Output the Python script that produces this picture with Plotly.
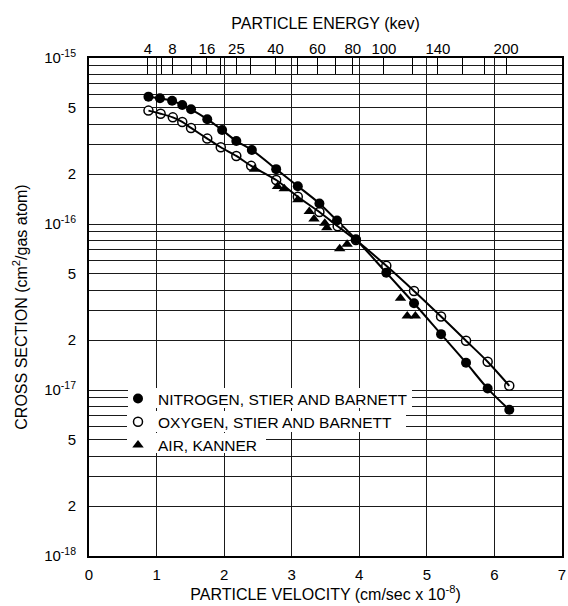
import numpy as np
import plotly.graph_objects as go

# ---- data (velocity in 1e8 cm/s, cross section in cm^2/gas atom)
nitrogen_v = [0.88, 1.05, 1.23, 1.38, 1.51, 1.75, 1.97, 2.18, 2.41, 2.77,
              3.09, 3.41, 3.67, 3.95, 4.40, 4.81, 5.21, 5.58, 5.90, 6.22]
nitrogen_sigma = [5.85e-16, 5.72e-16, 5.53e-16, 5.21e-16, 4.91e-16, 4.28e-16, 3.68e-16,
                  3.16e-16, 2.79e-16, 2.14e-16, 1.69e-16, 1.33e-16, 1.05e-16, 8.1e-17,
                  5.09e-17, 3.33e-17, 2.17e-17, 1.46e-17, 1.02e-17, 7.6e-18]

oxygen_v = [0.88, 1.06, 1.24, 1.38, 1.51, 1.75, 1.95, 2.18, 2.40, 2.77,
            3.09, 3.41, 3.68, 3.95, 4.40, 4.81, 5.21, 5.58, 5.90, 6.22]
oxygen_sigma = [4.82e-16, 4.62e-16, 4.39e-16, 4.12e-16, 3.79e-16, 3.27e-16, 2.90e-16,
                2.57e-16, 2.24e-16, 1.84e-16, 1.46e-16, 1.18e-16, 9.7e-17, 8.0e-17,
                5.6e-17, 3.95e-17, 2.77e-17, 1.98e-17, 1.48e-17, 1.06e-17]

air_v = [2.45, 2.79, 2.89, 3.09, 3.26, 3.33, 3.49, 3.52, 3.71, 3.82, 4.61, 4.71, 4.83]
air_sigma = [2.14e-16, 1.68e-16, 1.63e-16, 1.40e-16, 1.19e-16, 1.07e-16, 1.01e-16,
             9.5e-17, 7.1e-17, 7.55e-17, 3.57e-17, 2.79e-17, 2.79e-17]

# ---- axis tick definitions
x_ticks = [0, 1, 2, 3, 4, 5, 6, 7]
energy_labels = [4, 8, 16, 25, 40, 60, 80, 100, 140, 200]
energy_minor_kev = [6, 12, 20, 30, 50, 70, 120, 160, 180]
KEV_PER_V2 = 5.25  # proton kinetic energy (keV) per (1e8 cm/s)^2

y_major_vals = [1e-18, 2e-18, 5e-18, 1e-17, 2e-17, 5e-17, 1e-16, 2e-16, 5e-16, 1e-15]
y_major_text = ["10<sup>-18</sup>", "2", "5", "10<sup>-17</sup>", "2", "5",
                "10<sup>-16</sup>", "2", "5", "10<sup>-15</sup>"]
y_minor_vals = [k * 10.0 ** d for d in (-18, -17, -16) for k in (3, 4, 6, 7, 8, 9)]

top_major = list(np.sqrt(np.array(energy_labels) / KEV_PER_V2))
top_minor = list(np.sqrt(np.array(energy_minor_kev) / KEV_PER_V2))

FONT = "Liberation Sans"

fig = go.Figure()

# curves (oxygen curve drawn against the top energy axis, which shares the velocity scale)
fig.add_trace(go.Scatter(x=oxygen_v, y=oxygen_sigma, mode="lines", xaxis="x2",
                         line=dict(color="black", width=2, shape="spline", smoothing=0.8),
                         showlegend=False, hoverinfo="skip"))
fig.add_trace(go.Scatter(x=nitrogen_v, y=nitrogen_sigma, mode="lines",
                         line=dict(color="black", width=2, shape="spline", smoothing=0.8),
                         showlegend=False, hoverinfo="skip"))
# points
fig.add_trace(go.Scatter(x=oxygen_v, y=oxygen_sigma, mode="markers",
                         name="OXYGEN, STIER AND BARNETT", legendrank=2,
                         marker=dict(symbol="circle", size=9, color="white",
                                     line=dict(color="black", width=1.5))))
fig.add_trace(go.Scatter(x=air_v, y=air_sigma, mode="markers",
                         name="AIR, KANNER", legendrank=3,
                         marker=dict(symbol="triangle-up", size=10, color="black")))
fig.add_trace(go.Scatter(x=nitrogen_v, y=nitrogen_sigma, mode="markers",
                         name="NITROGEN, STIER AND BARNETT", legendrank=1,
                         marker=dict(symbol="circle", size=10, color="black")))

# plot area in pixels: left 89, right 562, top 58, bottom 556
W, H = 568, 606
L, R, T, B = 89, 6, 58, 50
pw, ph = W - L - R, H - T - B

def px_x(p):
    return (p - L) / pw

def px_y(p):
    return (H - B - p) / ph

# white patches behind legend rows (hide grid lines under the text)
rows = [(128, 412, 388, 408), (127, 406, 411, 432), (127, 266, 433, 453)]
shapes = []
for x0, x1, y0, y1 in rows:
    shapes.append(dict(type="rect", xref="paper", yref="paper", layer="above",
                       x0=px_x(x0), x1=px_x(x1), y0=px_y(y1), y1=px_y(y0),
                       fillcolor="white", line=dict(width=0)))

grid_col = "#1a1a1a"

fig.update_layout(
    width=W, height=H,
    margin=dict(l=L, r=R, t=T, b=B, autoexpand=False),
    plot_bgcolor="white", paper_bgcolor="white",
    font=dict(family=FONT, size=15, color="black"),
    shapes=shapes,
    showlegend=True,
    legend=dict(x=px_x(118), y=px_y(382), xanchor="left", yanchor="top",
                bgcolor="rgba(0,0,0,0)", borderwidth=0,
                font=dict(family=FONT, size=15.5, color="black"),
                itemwidth=30, tracegroupgap=0),
    xaxis=dict(range=[0, 7], tickvals=x_ticks, ticktext=[str(t) for t in x_ticks],
               showgrid=True, gridcolor=grid_col, gridwidth=1,
               showline=True, linecolor="black", linewidth=2, mirror=True,
               ticks="", zeroline=False, ticklabelstandoff=4, automargin=False,
               title=dict(text="PARTICLE VELOCITY (cm/sec x 10<sup>-8</sup>)",
                          font=dict(size=16), standoff=5)),
    yaxis=dict(type="log", range=[-18, -15], tickvals=y_major_vals, ticktext=y_major_text,
               showgrid=True, gridcolor=grid_col, gridwidth=1,
               minor=dict(tickvals=y_minor_vals, showgrid=True, gridcolor=grid_col,
                          gridwidth=1, ticks=""),
               showline=True, linecolor="black", linewidth=2, mirror=True,
               ticks="", zeroline=False, ticklabelstandoff=8, automargin=False,
               title=dict(text="CROSS SECTION (cm<sup>2</sup>/gas atom)",
                          font=dict(size=16), standoff=13)),
    xaxis2=dict(overlaying="x", side="top", range=[0, 7], anchor="y",
                tickvals=top_major, ticktext=[str(e) for e in energy_labels],
                ticks="inside", ticklen=16, tickwidth=1, tickcolor="black",
                minor=dict(tickvals=top_minor, ticks="inside", ticklen=16,
                           tickwidth=1, tickcolor="black", showgrid=False),
                showgrid=False, showline=False, zeroline=False, automargin=False,
                title=dict(text="PARTICLE ENERGY (kev)", font=dict(size=16), standoff=6)),
)

fig.write_html("out.html")
